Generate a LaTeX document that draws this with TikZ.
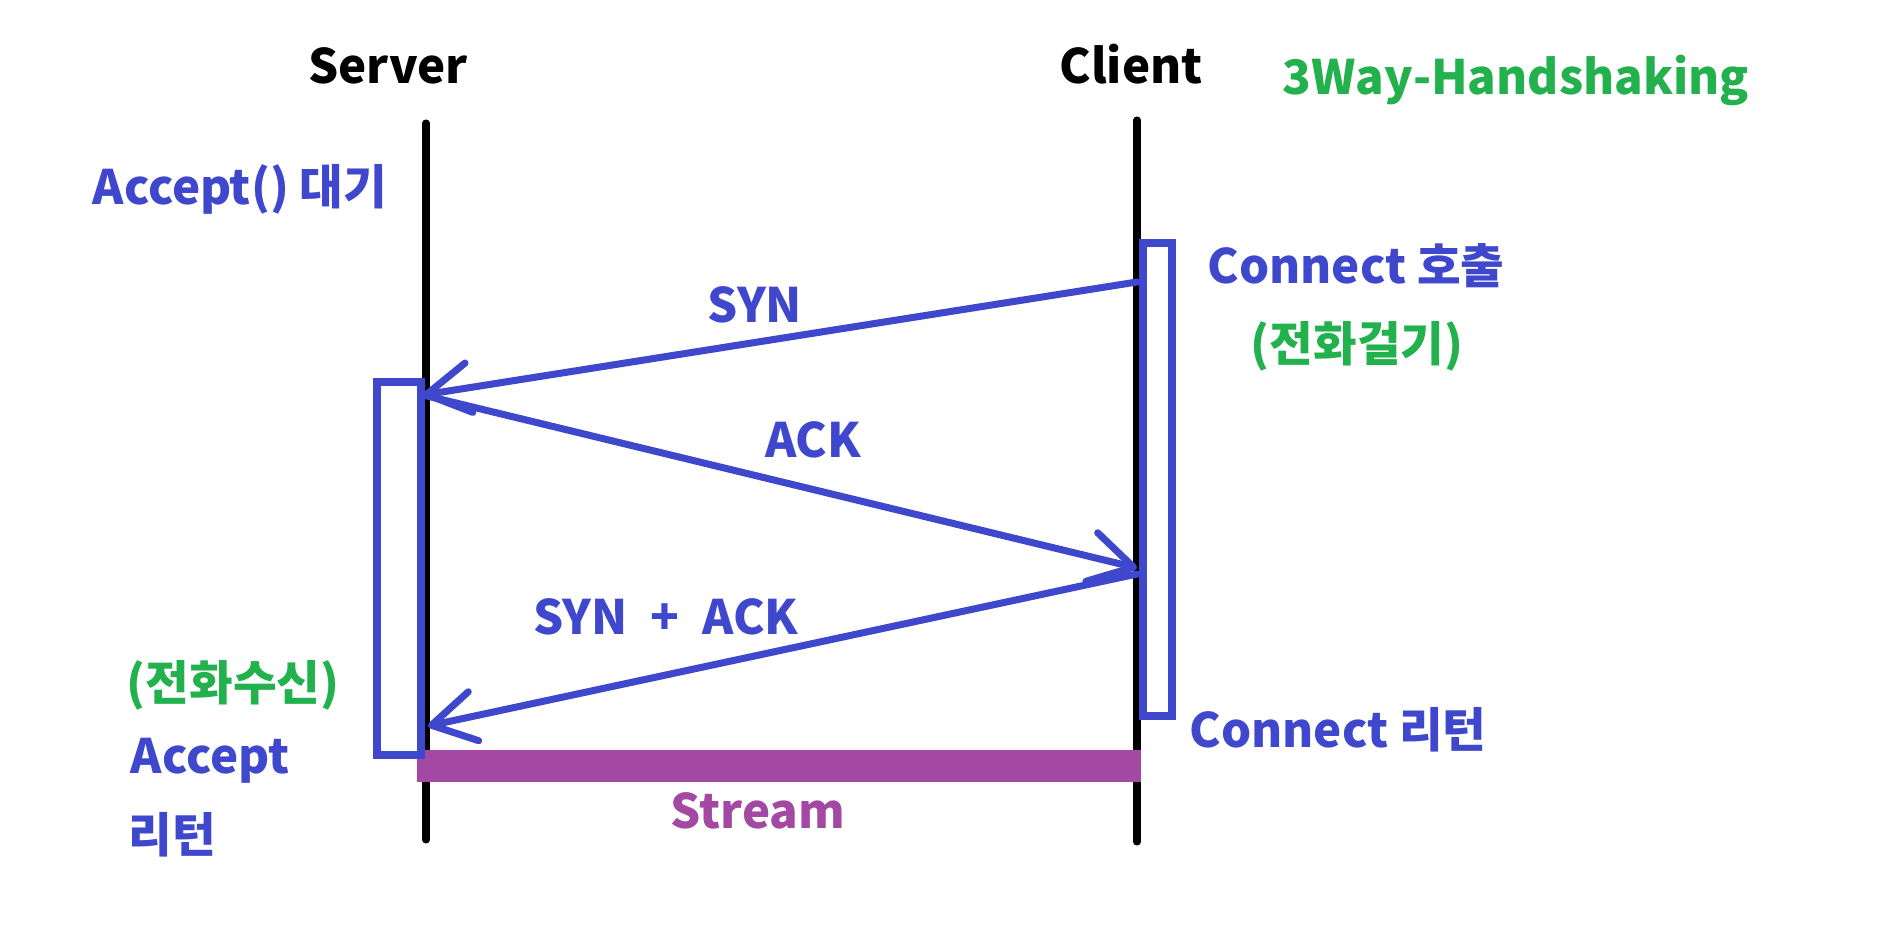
\documentclass[tikz,border=0pt]{standalone}
\usepackage{fontspec}
\setmainfont{Noto Sans CJK KR}
\usetikzlibrary{arrows.meta}
\definecolor{pblue}{RGB}{63,72,204}
\definecolor{pgreen}{RGB}{34,177,76}
\definecolor{ppurple}{RGB}{163,73,164}

\begin{document}
\begin{tikzpicture}[
		lifeline/.style={line width=2pt, line cap=round},
		msg/.style={pblue, line width=2pt, line cap=round,
			-{Straight Barb[length=4.3mm,width=5mm,round]}},
		lbl/.style={anchor=base, inner sep=0pt,
			font=\fontsize{13.5pt}{16pt}\selectfont\bfseries},
	]
		\useasboundingbox (0,0) rectangle (18.96,9.29);
		% Zeitachsen
		\coordinate (srvTop) at (4.26,8.06);
		\coordinate (srvBot) at (4.26,0.89);
		\coordinate (cliTop) at (11.37,8.09);
		\coordinate (cliBot) at (11.37,0.87);
		\draw[lifeline] (srvTop) -- (srvBot);
		\draw[lifeline] (cliTop) -- (cliBot);
		% Stream
		\fill[ppurple] (4.17,1.47) rectangle (11.41,1.79);
		% Aktivierung
		\draw[pblue, line width=2pt] (3.77,5.47) rectangle (4.21,1.74);
		\draw[pblue, line width=2pt] (11.43,6.86) rectangle (11.72,2.13);
		% Nachrichten
		\coordinate (cSyn) at (11.37,6.47);
		\coordinate (sSyn) at (4.23,5.34);
		\coordinate (cAck) at (11.37,3.61);
		\coordinate (cSynAck) at (11.37,3.55);
		\coordinate (sSynAck) at (4.28,2.03);
		\draw[msg] (cSyn) -- (sSyn);
		\draw[msg] (sSyn) -- (cAck);
		\draw[msg] (cSynAck) -- (sSynAck);
		% Texte
		\node[lbl] (server) at (3.88,8.45) {Server};
		\node[lbl] (client) at (11.31,8.45) {Client};
		\node[lbl, pgreen] (title) at (15.16,8.34) {3Way-Handshaking};
		\node[lbl, pblue] (acceptWait) at (2.40,7.24) {Accept() 대기};
		\node[lbl, pblue] (connCall) at (13.56,6.45) {Connect 호출};
		\node[lbl, pgreen] (dial) at (13.57,5.67) {(전화걸기)};
		\node[lbl, pblue] (synLbl) at (7.55,6.06) {SYN};
		\node[lbl, pblue] (ackLbl) at (8.13,4.71) {ACK};
		\node[lbl, pblue] (synAckLbl) at (6.66,2.95) {SYN\hspace{0.12cm} + \hspace{0.12cm}ACK};
		\node[lbl, pgreen] (recv) at (2.33,2.28) {(전화수신)};
		\node[lbl, pblue] (acceptRet) at (2.10,1.56) {Accept};
		\node[lbl, pblue] (acceptRet2) at (1.72,0.77) {리턴};
		\node[lbl, pblue] (connRet) at (13.38,1.82) {Connect 리턴};
		\node[lbl, ppurple] (stream) at (7.58,1.01) {Stream};
	\end{tikzpicture}
\end{document}
